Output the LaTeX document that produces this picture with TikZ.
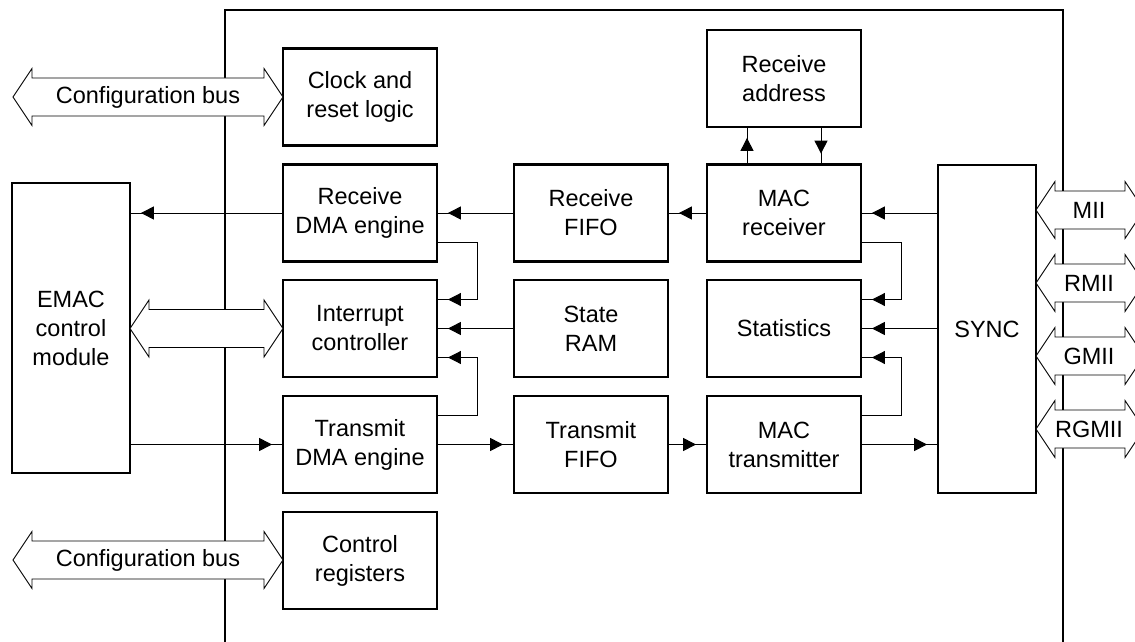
\documentclass[tikz,border=0pt]{standalone}
\usepackage{fontspec}
\setmainfont{Liberation Sans}
\usetikzlibrary{arrows.meta,decorations.markings}
\begin{document}
\begin{tikzpicture}[x=1pt,y=-1pt,
  box/.style={draw, line width=2.8pt, minimum width=154pt, minimum height=97pt, inner sep=0pt, align=center, font=\fontsize{23.5}{29}\selectfont},
  lbl/.style={inner sep=0pt, font=\fontsize{23.5}{29}\selectfont},
  conn/.style={line width=1pt, postaction={decorate}, decoration={markings, mark=at position -9.5pt with {\arrow{Triangle[length=13pt,width=13pt]}}}},
  frame/.style={line width=1.5pt},
  bus/.style={draw, fill=white, line width=0.9pt, line join=miter}
]
\useasboundingbox (0,0) rectangle (1135,642);
\clip (0,0) rectangle (1135,642);
% outer frame
\draw[frame] (225,642) -- (225,10) -- (1063,10) -- (1063,642);

% boxes
\node[box] (clk)  at (360,97)    {Clock and\\reset logic};
\node[box] (rdma) at (360,213)   {Receive\\DMA engine};
\node[box] (intc) at (360,328.5) {Interrupt\\controller};
\node[box] (tdma) at (360,444.5) {Transmit\\DMA engine};
\node[box] (creg) at (360,560.5) {Control\\registers};
\node[box] (rfifo) at (591,213)   {Receive\\FIFO};
\node[box] (sram)  at (591,328.5) {State\\RAM};
\node[box] (tfifo) at (591,444.5) {Transmit\\FIFO};
\node[box] (raddr) at (784,78.5)  {Receive\\address};
\node[box] (macr)  at (784,213)   {MAC\\receiver};
\node[box] (stat)  at (784,328.5) {Statistics};
\node[box] (mact)  at (784,444.5) {MAC\\transmitter};
\node[box, minimum width=98pt, minimum height=328pt] (sync) at (987,329) {SYNC};
\node[box, minimum width=118pt, minimum height=290pt] (emac) at (71,328) {EMAC\\control\\module};

% straight connectors
\draw[conn] (rdma.west) -- (rdma.west -| emac.east);
\draw[conn] (rfifo.west) -- (rdma.east);
\draw[conn] (macr.west) -- (rfifo.east);
\draw[conn] (sync.west |- macr.east) -- (macr.east);
\draw[conn] (sram.west) -- (intc.east);
\draw[conn] (sync.west |- stat.east) -- (stat.east);
\draw[conn] (emac.east |- tdma.west) -- (tdma.west);
\draw[conn] (tdma.east) -- (tfifo.west);
\draw[conn] (tfifo.east) -- (mact.west);
\draw[conn] (mact.east) -- (mact.east -| sync.west);
% receive address
\coordinate (ua) at (747,0);
\coordinate (da) at (821,0);
\draw[conn] (macr.north -| ua) -- (raddr.south -| ua);
\draw[conn] (raddr.south -| da) -- (macr.north -| da);
% elbow connectors
\coordinate (rdo) at ([yshift=-29pt]rdma.east);
\coordinate (ici) at ([yshift=29pt]intc.east);
\coordinate (ico) at ([yshift=-29pt]intc.east);
\coordinate (tdo) at ([yshift=29pt]tdma.east);
\draw[conn] (rdo) -| ([xshift=39pt]rdo) |- (ici);
\draw[conn] (tdo) -| ([xshift=39pt]tdo) |- (ico);
\coordinate (mro) at ([yshift=-29pt]macr.east);
\coordinate (sti) at ([yshift=29pt]stat.east);
\coordinate (sto) at ([yshift=-29pt]stat.east);
\coordinate (mto) at ([yshift=29pt]mact.east);
\draw[conn] (mro) -| ([xshift=39pt]mro) |- (sti);
\draw[conn] (mto) -| ([xshift=39pt]mto) |- (sto);

% double block arrows
\newcommand{\dbus}[3]{% x1, x2, y
  \draw[bus] (#1,#3) -- (#1+19,#3-28.5) -- (#1+19,#3-19) -- (#2-19,#3-19) -- (#2-19,#3-28.5)
    -- (#2,#3) -- (#2-19,#3+28.5) -- (#2-19,#3+19) -- (#1+19,#3+19) -- (#1+19,#3+28.5) -- cycle;}
\dbus{13}{283}{97}
\node[lbl] (cfg1) at (148,97) {Configuration bus};
\dbus{130}{283}{328.5}
\dbus{13}{283}{560}
\node[lbl] (cfg2) at (148,560) {Configuration bus};
\dbus{1036}{1144}{210}
\node[lbl] (mii) at (1089,210) {MII};
\dbus{1036}{1144}{283}
\node[lbl] (rmii) at (1089,283) {RMII};
\dbus{1036}{1144}{356}
\node[lbl] (gmii) at (1089,356) {GMII};
\dbus{1036}{1144}{429}
\node[lbl] (rgmii) at (1089,429) {RGMII};
\end{tikzpicture}
\end{document}
